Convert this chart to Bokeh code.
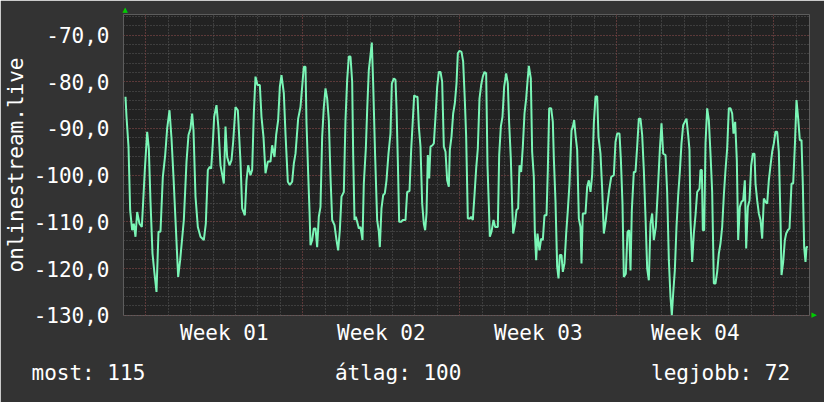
from bokeh.plotting import figure
from bokeh.models import Range1d, FixedTicker, Grid, LinearAxis, Title
from bokeh.embed import file_html
from bokeh.resources import INLINE

# time in days relative to the Monday that starts "Week 01"
day = [
    -0.905, -0.860, -0.771, -0.697, -0.608, -0.534, -0.459, -0.385, -0.281, -0.177, -0.117, -0.043,
    0.061, 0.135, 0.210, 0.299, 0.388, 0.477, 0.566, 0.655, 0.759, 0.864, 0.953,
    1.057, 1.146, 1.235, 1.324, 1.443, 1.532, 1.696, 1.815, 1.904, 1.993,
    2.067, 2.127, 2.216, 2.320, 2.439, 2.587, 2.676, 2.766, 2.855, 2.914, 2.988,
    3.048, 3.152, 3.241, 3.330, 3.479, 3.553, 3.628, 3.732, 3.821, 3.895, 3.999,
    4.103, 4.222, 4.296, 4.415, 4.490, 4.564, 4.668, 4.742, 4.816, 4.891, 4.980,
    5.084, 5.158, 5.247, 5.337, 5.441, 5.560, 5.634, 5.738, 5.812, 5.901, 5.976,
    6.050, 6.154, 6.228, 6.332, 6.421, 6.526, 6.600, 6.674, 6.793, 6.897, 6.971,
    7.045, 7.120, 7.165, 7.239, 7.298, 7.343, 7.417, 7.491, 7.566, 7.640, 7.714, 7.789, 7.863, 7.937,
    8.012, 8.086, 8.160, 8.235, 8.309, 8.413, 8.502, 8.576, 8.651, 8.725, 8.829, 8.903, 8.978,
    9.052, 9.126, 9.201, 9.245, 9.305, 9.364, 9.424, 9.498, 9.572, 9.661, 9.720, 9.810, 9.869, 9.943,
    10.018, 10.077, 10.137, 10.226, 10.315, 10.389, 10.434, 10.508, 10.583, 10.657, 10.731, 10.820, 10.909, 10.969,
    11.058, 11.132, 11.177, 11.236, 11.296, 11.385, 11.459, 11.578, 11.653, 11.757, 11.831, 11.905, 11.965,
    12.039, 12.114, 12.173, 12.247, 12.322, 12.396, 12.455, 12.515, 12.574, 12.634, 12.693, 12.782, 12.842, 12.916, 12.991,
    13.065, 13.139, 13.213, 13.288, 13.362, 13.436, 13.510, 13.555, 13.629, 13.704, 13.778, 13.852, 13.912, 13.986,
    14.075, 14.149, 14.223, 14.283, 14.357, 14.446, 14.506, 14.580, 14.654, 14.729, 14.803, 14.877, 14.952,
    15.026, 15.100, 15.175, 15.234, 15.293, 15.338, 15.413, 15.502, 15.576, 15.695, 15.755, 15.829, 15.903, 15.977,
    16.067, 16.141, 16.200, 16.274, 16.334, 16.378, 16.453, 16.527, 16.601, 16.661, 16.735, 16.809, 16.884, 16.958,
    17.017, 17.077, 17.166, 17.225, 17.300, 17.344, 17.404, 17.463, 17.552, 17.627, 17.701, 17.775, 17.865, 17.924, 17.984,
    18.073, 18.147, 18.192, 18.266, 18.340, 18.400, 18.459, 18.533, 18.593, 18.667, 18.742, 18.816, 18.890, 18.979,
    19.039, 19.098, 19.158, 19.232, 19.306, 19.380, 19.425, 19.484, 19.573, 19.603, 19.678, 19.752, 19.826, 19.901, 19.975,
    20.049, 20.124, 20.183, 20.272, 20.346, 20.421, 20.510, 20.569, 20.659, 20.748, 20.866, 20.941,
    21.015, 21.119, 21.178, 21.253, 21.312, 21.401, 21.476, 21.550, 21.610, 21.669, 21.758, 21.832, 21.907, 21.981,
    22.055, 22.130, 22.204, 22.278, 22.353, 22.427, 22.501, 22.576, 22.650, 22.739, 22.828, 22.917, 22.992,
    23.066, 23.170, 23.244, 23.319, 23.393, 23.452, 23.512, 23.586, 23.660, 23.735, 23.809, 23.883, 23.958,
    24.032, 24.106, 24.181, 24.240, 24.284, 24.359, 24.433, 24.507, 24.582, 24.686, 24.730, 24.790, 24.834, 24.894, 24.954,
    25.028, 25.102, 25.176, 25.251, 25.325, 25.399, 25.474, 25.548, 25.622, 25.697, 25.771, 25.845, 25.920, 25.994,
    26.068, 26.143, 26.202, 26.276, 26.350, 26.410, 26.484, 26.559, 26.633, 26.707, 26.767, 26.841, 26.915, 26.990,
    27.064, 27.138, 27.183, 27.257, 27.331, 27.406, 27.480, 27.554, 27.629, 27.703, 27.777, 27.852, 27.926,
    28.000, 28.075, 28.149, 28.223, 28.298, 28.342, 28.417, 28.491, 28.550, 28.624, 28.699, 28.788, 28.862, 28.936,
    29.011, 29.085, 29.159, 29.233, 29.293, 29.352, 29.412, 29.456, 29.516,
]

value = [
    -83.2, -87.5, -93.9, -107.5, -111.8, -110.4, -113.2, -107.9, -110.4, -111.1, -105.7, -98.9,
    -90.7, -94.3, -105.7, -116.8, -121.1, -125.0, -112.1, -112.1, -100.4, -95.7, -90.0,
    -86.1, -92.1, -100.4, -109.6, -121.8, -118.2, -109.6, -97.1, -91.4, -90.0,
    -86.8, -90.4, -104.6, -111.1, -113.2, -113.9, -110.4, -98.9, -98.2, -98.6, -93.2,
    -87.5, -85.0, -90.0, -97.9, -101.8, -89.6, -96.1, -97.9, -96.8, -92.9, -85.4,
    -86.1, -97.1, -107.1, -108.6, -101.1, -97.9, -100.0, -98.9, -86.8, -78.9, -80.7,
    -80.7, -87.5, -91.8, -99.6, -97.1, -97.1, -93.6, -96.1, -91.4, -88.2, -81.1,
    -78.6, -82.5, -91.1, -101.4, -102.1, -101.4, -97.5, -95.4, -87.9, -85.4, -81.1,
    -76.8, -76.8, -88.9, -99.6, -107.5, -115.0, -113.9, -111.4, -111.4, -115.4, -108.9, -106.8, -91.8, -85.4,
    -81.4, -83.6, -88.2, -100.4, -109.6, -110.7, -113.9, -116.1, -111.8, -104.6, -103.6, -88.2, -79.6,
    -74.6, -74.6, -80.0, -95.4, -109.6, -108.9, -110.0, -111.4, -111.1, -113.9, -101.8, -94.3, -86.1, -77.5,
    -74.3, -71.6, -80.4, -96.1, -109.6, -112.1, -115.4, -107.1, -104.3, -103.9, -101.1, -95.4, -91.1, -80.4,
    -79.3, -79.6, -85.4, -96.8, -110.0, -110.0, -109.6, -109.6, -103.6, -103.4, -94.6, -88.2, -82.9,
    -83.2, -83.2, -89.6, -93.9, -106.1, -110.4, -111.8, -108.2, -95.7, -100.7, -93.9, -93.6, -93.2, -87.5, -81.1,
    -77.9, -77.9, -80.0, -93.9, -95.0, -101.1, -102.5, -94.6, -91.8, -86.8, -84.6, -80.4, -73.9, -73.4,
    -73.6, -75.7, -83.9, -91.8, -109.3, -109.3, -108.9, -109.6, -104.3, -98.6, -94.3, -83.6, -80.7,
    -78.9, -77.9, -78.2, -97.9, -106.4, -113.2, -112.1, -109.6, -111.1, -111.1, -95.7, -89.6, -87.5, -81.1,
    -78.2, -80.4, -88.9, -96.4, -106.4, -112.5, -110.7, -107.5, -107.1, -97.9, -99.3, -93.9, -86.8, -83.6,
    -80.0, -76.6, -79.3, -95.0, -100.4, -112.1, -118.2, -112.5, -116.1, -113.6, -113.9, -108.6, -108.6, -98.9, -85.7,
    -85.7, -88.6, -96.4, -105.7, -119.6, -122.1, -117.1, -117.1, -120.7, -118.9, -112.5, -107.5, -101.8, -90.4,
    -89.6, -88.2, -91.4, -94.6, -109.3, -111.1, -118.9, -108.2, -108.2, -108.2, -102.5, -101.1, -103.6, -100.0, -88.9,
    -83.2, -83.1, -91.8, -95.4, -102.9, -112.5, -109.6, -106.8, -103.2, -100.4, -100.0, -92.9,
    -91.1, -91.1, -96.4, -106.1, -121.8, -121.1, -112.1, -111.8, -120.4, -107.5, -99.3, -99.3, -93.9, -87.9,
    -87.9, -91.4, -98.9, -108.9, -120.0, -122.5, -110.4, -108.2, -113.9, -111.1, -103.2, -94.6, -88.9,
    -95.4, -95.7, -103.6, -118.2, -126.1, -130.0, -125.4, -120.4, -111.1, -104.3, -99.3, -93.2, -89.3,
    -88.6, -87.9, -91.4, -94.6, -109.6, -118.6, -112.5, -108.6, -103.6, -102.9, -98.9, -98.9, -111.8, -111.8, -93.2,
    -85.7, -88.2, -95.4, -103.6, -123.2, -123.2, -120.7, -116.8, -114.6, -111.1, -104.3, -98.9, -94.3, -85.7,
    -85.7, -86.8, -91.1, -88.6, -96.8, -113.9, -106.8, -105.7, -105.4, -101.1, -115.7, -106.8, -105.4, -97.9,
    -95.4, -95.4, -101.8, -105.4, -108.2, -109.6, -113.6, -105.0, -105.7, -106.1, -101.1, -97.9, -95.0,
    -93.2, -90.7, -90.7, -95.0, -109.6, -121.4, -118.6, -113.9, -112.5, -111.8, -111.4, -101.8, -101.8, -93.9,
    -83.9, -87.9, -92.5, -92.5, -102.1, -115.4, -118.6, -115.4, -115.4,
]

y_ticks = [-130, -120, -110, -100, -90, -80, -70]
y_tick_labels = ["-130,0", "-120,0", "-110,0", "-100,0", "-90,0", "-80,0", "-70,0"]
y_minor = list(range(-130, -64, 2))
week_starts = [0, 7, 14, 21, 28]
day_lines = list(range(0, 30))
week_centers = [3.5, 10.5, 17.5, 24.5]
week_labels = ["Week 01", "Week 02", "Week 03", "Week 04"]
stat_names = ["most", "átlag", "legjobb"]
stat_values = [115, 100, 72]
y_label = "onlinestream.live"

FONT = "DejaVu Sans Mono"
BG = "#333333"
PLOT_BG = "#222222"
GRID_MINOR = "#5a5a5a"
GRID_MAJOR = "#7a3434"
LINE = "#7af5b6"
TEXT = "#ffffff"
ARROW = "#00cc00"

p = figure(width=824, height=402,
           x_range=Range1d(-0.994, 29.59), y_range=Range1d(-130.05, -65.6),
           output_backend="svg", toolbar_location=None,
           min_border_left=123, min_border_right=15, min_border_top=14, min_border_bottom=87)
p.background_fill_color = PLOT_BG
p.border_fill_color = BG
p.outline_line_color = None

# grids
p.xgrid.ticker = FixedTicker(ticks=day_lines)
p.ygrid.ticker = FixedTicker(ticks=y_minor)
for g in (p.xgrid[0], p.ygrid[0]):
    g.grid_line_color = GRID_MINOR
    g.grid_line_dash = "1 2"
    g.grid_line_width = 1
p.add_layout(Grid(dimension=0, ticker=FixedTicker(ticks=week_starts),
                  grid_line_color=GRID_MAJOR, grid_line_dash="1 2", grid_line_width=1))
p.add_layout(Grid(dimension=1, ticker=FixedTicker(ticks=y_ticks),
                  grid_line_color=GRID_MAJOR, grid_line_dash="1 2", grid_line_width=1))


def style_axis(ax, size="21px", color=TEXT, font=FONT):
    ax.axis_line_color = None
    ax.major_tick_line_color = None
    ax.minor_tick_line_color = None
    ax.major_tick_out = 0
    ax.major_tick_in = 0
    ax.major_label_text_font = font
    ax.major_label_text_font_size = size
    ax.major_label_text_color = color


# axes
p.yaxis.ticker = FixedTicker(ticks=y_ticks)
p.yaxis.major_label_overrides = dict(zip(y_ticks, y_tick_labels))
p.xaxis.ticker = FixedTicker(ticks=week_centers)
p.xaxis.major_label_overrides = dict(zip(week_centers, week_labels))
style_axis(p.xaxis[0])
style_axis(p.yaxis[0])
p.yaxis.major_label_standoff = 14
p.xaxis.major_label_standoff = 5
p.yaxis.axis_label = y_label
p.yaxis.axis_label_text_font = FONT
p.yaxis.axis_label_text_font_size = "21px"
p.yaxis.axis_label_text_font_style = "normal"
p.yaxis.axis_label_text_color = TEXT
p.yaxis.axis_label_standoff = 3

# small green arrow heads at the ends of the axes
top_axis = LinearAxis(ticker=FixedTicker(ticks=[-0.918]),
                      major_label_overrides={-0.918: "▲"})
style_axis(top_axis, size="7px", color=ARROW, font="DejaVu Sans")
top_axis.major_label_standoff = 1
p.add_layout(top_axis, "above")
right_axis = LinearAxis(ticker=FixedTicker(ticks=[-130]),
                        major_label_overrides={-130: "▶"})
style_axis(right_axis, size="7px", color=ARROW, font="DejaVu Sans")
right_axis.major_label_standoff = 2
p.add_layout(right_axis, "right")

p.line(day, value, line_color=LINE, line_width=2)

# statistics line under the chart (monospace, padded with no-break spaces)
gap = "\u00a0" * 15
stats_text = gap.join(f"{n}: {v}" for n, v in zip(stat_names, stat_values))
p.add_layout(Title(text=stats_text, align="left", offset=-92, standoff=23,
                   text_font=FONT, text_font_size="21px", text_font_style="normal",
                   text_color=TEXT), "below")

open("out.html", "w").write(file_html(p, INLINE))
